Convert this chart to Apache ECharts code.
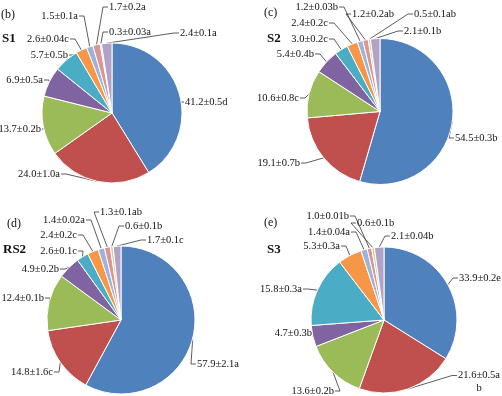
<!DOCTYPE html>
<html><head><meta charset="utf-8">
<script src="https://cdn.jsdelivr.net/npm/echarts@6/dist/echarts.min.js"></script>
<style>html,body{margin:0;padding:0;background:#fff}#c{width:502px;height:396px}</style>
</head><body><div id="c"></div>
<script>
// ---- data ----
const components = ['C1','C2','C3','C4','C5','C6','C7','C8','C9','C10'];
const s1Values  = [41.2, 24.0, 13.7, 6.9, 5.7, 2.6, 1.5, 1.7, 0.3, 2.4];
const s1Err     = ['0.5','1.0','0.2','0.5','0.5','0.04','0.1','0.2','0.03','0.1'];
const s1Letters = ['d','a','b','a','b','c','a','a','a','a'];
const s2Values  = [54.5, 19.1, 10.6, 5.4, 3.0, 2.4, 1.2, 1.2, 0.5, 2.1];
const s2Err     = ['0.3','0.7','0.8','0.4','0.2','0.2','0.03','0.2','0.1','0.1'];
const s2Letters = ['b','b','c','b','c','c','b','ab','ab','b'];
const rs2Values  = [57.9, 14.8, 12.4, 4.9, 2.6, 2.4, 1.4, 1.3, 0.6, 1.7];
const rs2Err     = ['2.1','1.6','0.1','0.2','0.1','0.2','0.02','0.1','0.1','0.1'];
const rs2Letters = ['a','c','b','b','c','c','a','ab','b','c'];
const s3Values  = [33.9, 21.6, 13.6, 4.7, 15.8, 5.3, 1.4, 1.0, 0.6, 2.1];
const s3Err     = ['0.2','0.5','0.2','0.3','0.3','0.3','0.04','0.01','0.1','0.04'];
const s3Letters = ['e','a\nb','b','b','a','a','a','b','b','b'];
const panelTags = ['(b)','(c)','(d)','(e)'];
const panelNames = ['S1','S2','RS2','S3'];

// ---- styles / layout ----
const colors = ['#4F81BD','#C0504D','#9BBB59','#8064A2','#4BACC6','#F79646','#9DB3DA','#D99694','#C3D69B','#B3A2C7'];
const FONT = '"Liberation Serif","Times New Roman",serif';
const pies = [
  {center:[112,113], r:70, tag:[1,15], name:[2,39]},
  {center:[380,111.5], r:73, tag:[264,13], name:[267,39]},
  {center:[121,320], r:74, tag:[7,224], name:[3,250]},
  {center:[384,320], r:73, tag:[264,223], name:[267,250]}
];
// label anchor [x, y, align]
const labelPos = [
  [[185,102,'left'],[60,174,'right'],[41,129,'right'],[43,80,'right'],[68,55,'right'],[69,39,'right'],[78,16,'right'],[109,7,'left'],[109,32,'left'],[180,33,'left']],
  [[455,138,'left'],[300,163,'right'],[299,98,'right'],[314,54,'right'],[328,39,'right'],[328,23,'right'],[338,7,'right'],[352,14,'left'],[414,14,'left'],[404,31,'left']],
  [[197,364,'left'],[53,372,'right'],[44,298,'right'],[59,269,'right'],[77,251,'right'],[77,235,'right'],[85,220,'right'],[100,212,'left'],[125,226,'left'],[147,240,'left']],
  [[459,278,'left'],[479,382,'center'],[334,391,'right'],[312,333,'right'],[302,289,'right'],[340,246,'right'],[350,232,'right'],[349,216,'right'],[357,223,'left'],[391,236,'left']]
];

const sets = [
  [s1Values, s1Err, s1Letters],
  [s2Values, s2Err, s2Letters],
  [rs2Values, rs2Err, rs2Letters],
  [s3Values, s3Err, s3Letters]
];

const series = sets.map(([vals, errs, lets], k) => ({
  type: 'pie',
  center: pies[k].center,
  radius: [0, pies[k].r],
  startAngle: 90,
  clockwise: true,
  avoidLabelOverlap: false,
  animation: false,
  itemStyle: {borderColor:'#fff', borderWidth:1},
  emphasis: {disabled: true},
  data: vals.map((v, i) => ({
    name: components[i], value: v,
    itemStyle: {color: colors[i]},
    label: {formatter: v.toFixed(1) + '±' + errs[i] + lets[i]}
  })),
  label: {show: true, position: 'outside', fontFamily: FONT, fontSize: 10.5, color: '#111', lineHeight: 13},
  labelLine: {show: true, length: 5, length2: 5, lineStyle: {color: '#333', width: 0.8}},
  labelLayout: function (p) {
    const lp = labelPos[k][p.dataIndex];
    const x = lp[0], y = lp[1], al = lp[2];
    const p0 = p.labelLinePoints ? p.labelLinePoints[0] : null;
    let ex, ey = y;
    if (al === 'left') { ex = x - 1; }
    else if (al === 'right') { ex = x + 1; }
    else { ex = x - p.labelRect.width / 2 - 1; ey = y - p.labelRect.height / 4; }
    const dir = (al === 'right') ? 1 : -1;
    const res = {x: x, y: y, align: al, verticalAlign: 'middle'};
    if (p0) res.labelLinePoints = [p0, [ex + dir * 5, ey], [ex, ey]];
    return res;
  }
}));

const graphic = [];
pies.forEach((pc, k) => {
  graphic.push({type:'text', x: pc.tag[0], y: pc.tag[1], style:{text: panelTags[k], font: '12px ' + FONT, fill:'#111', verticalAlign:'middle'}});
  graphic.push({type:'text', x: pc.name[0], y: pc.name[1], style:{text: panelNames[k], font: 'bold 13px ' + FONT, fill:'#111', verticalAlign:'middle'}});
});

const chart = echarts.init(document.getElementById('c'), null, {renderer:'canvas'});
chart.setOption({backgroundColor:'#fff', animation:false, series: series, graphic: graphic});
</script></body></html>
